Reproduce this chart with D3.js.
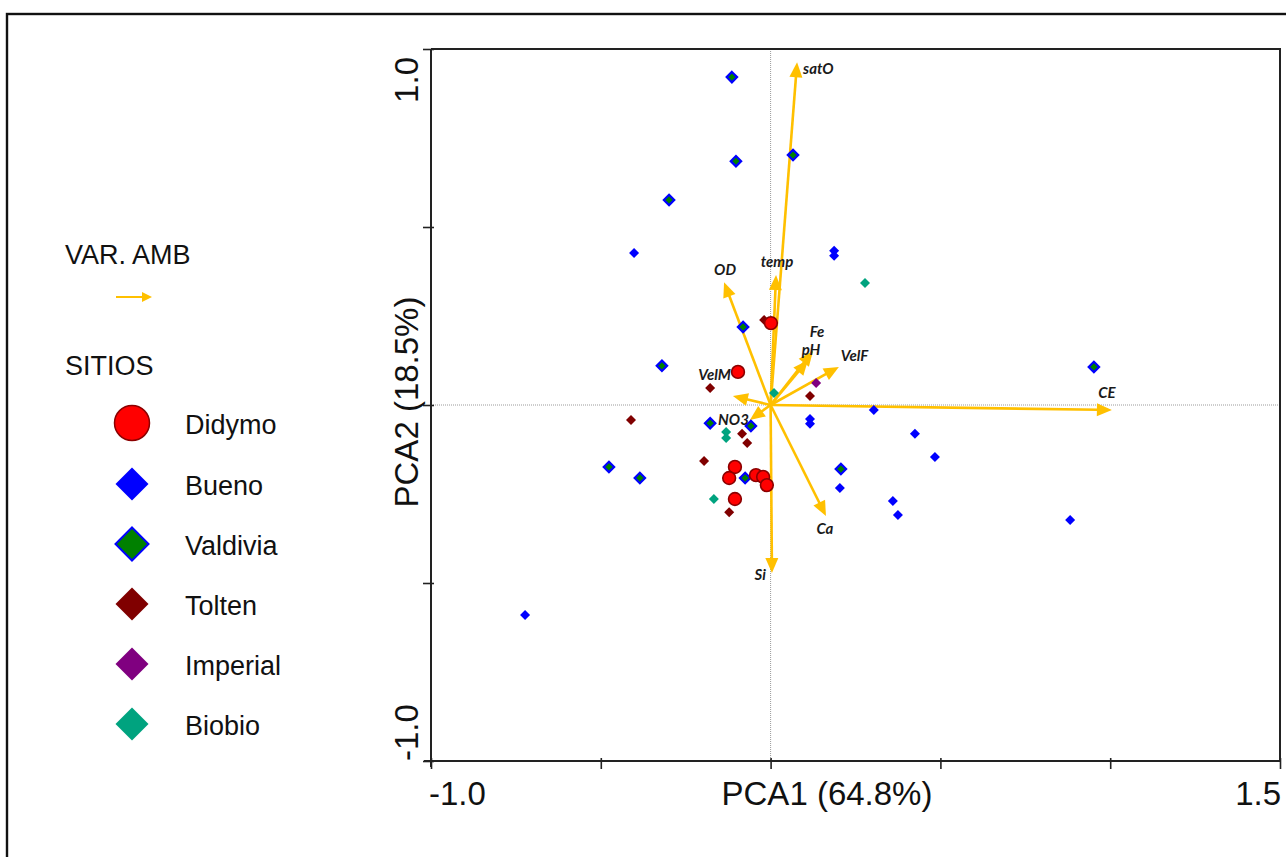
<!DOCTYPE html>
<html>
<head>
<meta charset="utf-8">
<script src="https://cdn.jsdelivr.net/npm/d3@7"></script>
<style>
  html, body { margin: 0; padding: 0; background: #fff; }
  svg { display: block; }
</style>
</head>
<body>
<svg id="chart" width="1286" height="857"></svg>
<script>
// PCA biplot: site scores (PC1, PC2) and environmental variable loadings.

const siteNames = ["Didymo", "Bueno", "Valdivia", "Tolten", "Imperial", "Biobio"];

const didymo = [
  [0.001, 0.230], [-0.096, 0.093], [-0.105, -0.174], [-0.122, -0.205],
  [-0.043, -0.197], [-0.022, -0.202], [-0.011, -0.225], [-0.105, -0.264]
];
const bueno = [
  [-0.402, 0.427], [0.187, 0.433], [0.187, 0.419], [0.304, -0.014],
  [0.116, -0.039], [0.116, -0.053], [0.425, -0.081], [0.484, -0.146],
  [0.204, -0.233], [0.360, -0.270], [0.375, -0.309], [0.882, -0.323],
  [-0.723, -0.590]
];
const valdivia = [
  [-0.114, 0.921], [-0.102, 0.685], [0.066, 0.702], [-0.299, 0.576],
  [-0.081, 0.219], [-0.320, 0.110], [0.952, 0.107], [-0.178, -0.051],
  [-0.058, -0.059], [-0.476, -0.174], [-0.385, -0.205], [-0.075, -0.205],
  [0.207, -0.180]
];
const tolten = [
  [-0.019, 0.239], [-0.178, 0.048], [0.116, 0.025], [-0.411, -0.042],
  [-0.084, -0.081], [-0.069, -0.107], [-0.196, -0.157], [-0.122, -0.301],
  [-0.011, -0.219]
];
const imperial = [[0.134, 0.062]];
const biobio = [
  [0.278, 0.343], [0.010, 0.034], [-0.131, -0.076], [-0.131, -0.093],
  [-0.167, -0.264]
];

const varNames = ["satO", "temp", "OD", "Fe", "pH", "VelF", "VelM", "NO3", "CE", "Ca", "Si"];
const varPC1 = [0.078, 0.016, -0.137, 0.125, 0.110, 0.201, -0.111, -0.061, 1.005, 0.163, 0.004];
const varPC2 = [0.963, 0.365, 0.345, 0.152, 0.126, 0.107, 0.025, -0.042, -0.014, -0.312, -0.472];

const xTickValues = [-1.0, -0.5, 0, 0.5, 1.0, 1.5];
const yTickValues = [-1.0, -0.5, 0, 0.5, 1.0];
const xEndLabels = ["-1.0", "1.5"];
const yEndLabels = ["-1.0", "1.0"];

// ---- layout ----
const svg = d3.select("#chart");
const W = 1286, H = 857;
const plot = { left: 431, right: 1280, top: 49, bottom: 761 };

const x = d3.scaleLinear().domain([-1, 1.5]).range([plot.left, plot.right]);
const y = d3.scaleLinear().domain([-1, 1]).range([plot.bottom, plot.top]);

const ARROW = "#FFC000";
const styles = {
  Didymo:   { shape: "circle",  fill: "#FF0000", stroke: "#8B0000", sw: 1.6, r: 6.4 },
  Bueno:    { shape: "diamond", fill: "#0000FF", stroke: "none",    sw: 0,   r: 5 },
  Valdivia: { shape: "diamond", fill: "#008000", stroke: "#0000FF", sw: 2.2, r: 5.2 },
  Tolten:   { shape: "diamond", fill: "#800000", stroke: "none",    sw: 0,   r: 5 },
  Imperial: { shape: "diamond", fill: "#800080", stroke: "none",    sw: 0,   r: 5 },
  Biobio:   { shape: "diamond", fill: "#00A37F", stroke: "none",    sw: 0,   r: 5 }
};
const siteData = { Didymo: didymo, Bueno: bueno, Valdivia: valdivia, Tolten: tolten, Imperial: imperial, Biobio: biobio };

// outer frame
svg.append("rect")
  .attr("x", 7).attr("y", 14).attr("width", W + 20).attr("height", H + 20)
  .attr("fill", "none").attr("stroke", "#111").attr("stroke-width", 2.4);

// zero reference lines
svg.append("line")
  .attr("x1", plot.left).attr("x2", plot.right).attr("y1", y(0)).attr("y2", y(0))
  .attr("stroke", "#9a9a9a").attr("stroke-width", 1).attr("stroke-dasharray", "1,1");
svg.append("line")
  .attr("x1", x(0)).attr("x2", x(0)).attr("y1", plot.top).attr("y2", plot.bottom)
  .attr("stroke", "#9a9a9a").attr("stroke-width", 1).attr("stroke-dasharray", "1,1");

// plot box: top and right edges
svg.append("path")
  .attr("d", `M${plot.left},${plot.top}H${plot.right}V${plot.bottom}`)
  .attr("fill", "none").attr("stroke", "#222").attr("stroke-width", 2);

// axes
const xAxis = d3.axisBottom(x).tickValues(xTickValues).tickFormat("").tickSizeInner(8).tickSizeOuter(0);
const gx = svg.append("g").attr("transform", `translate(0,${plot.bottom})`).call(xAxis);
gx.select(".domain").attr("stroke", "#222").attr("stroke-width", 2)
  .attr("d", `M${plot.left - 7},0H${plot.right}`);
gx.selectAll(".tick line").attr("stroke", "#222").attr("stroke-width", 1.6).attr("y1", -3);

const yAxis = d3.axisLeft(y).tickValues(yTickValues).tickFormat("").tickSizeInner(8).tickSizeOuter(0);
const gy = svg.append("g").attr("transform", `translate(${plot.left},0)`).call(yAxis);
gy.select(".domain").attr("stroke", "#222").attr("stroke-width", 2)
  .attr("d", `M0,${plot.top}V${plot.bottom + 6}`);
gy.selectAll(".tick line").attr("stroke", "#222").attr("stroke-width", 1.6).attr("x1", 3);

const axisFont = "'Liberation Sans', Arial, sans-serif";
// x end labels
svg.append("text").attr("x", x(-1) - 2).attr("y", 805)
  .attr("font-family", axisFont).attr("font-size", 33).attr("fill", "#111")
  .attr("text-anchor", "start").text(xEndLabels[0]);
svg.append("text").attr("x", x(1.5) + 1).attr("y", 805)
  .attr("font-family", axisFont).attr("font-size", 33).attr("fill", "#111")
  .attr("text-anchor", "end").text(xEndLabels[1]);
svg.append("text").attr("x", 827).attr("y", 805)
  .attr("font-family", axisFont).attr("font-size", 33).attr("fill", "#111")
  .attr("text-anchor", "middle").text("PCA1 (64.8%)");

// y end labels (rotated)
svg.append("text").attr("transform", `translate(418,${y(-1)}) rotate(-90)`)
  .attr("font-family", axisFont).attr("font-size", 33).attr("fill", "#111")
  .attr("text-anchor", "start").text(yEndLabels[0]);
svg.append("text").attr("transform", `translate(418,${y(1) + 8}) rotate(-90)`)
  .attr("font-family", axisFont).attr("font-size", 33).attr("fill", "#111")
  .attr("text-anchor", "end").text(yEndLabels[1]);
svg.append("text").attr("transform", `translate(418,${y(0) - 3}) rotate(-90)`)
  .attr("font-family", axisFont).attr("font-size", 33).attr("fill", "#111")
  .attr("text-anchor", "middle").text("PCA2 (18.5%)");

// ---- variable arrows ----
function arrowPaths(x0, y0, x1, y1, headLen, headHalf) {
  const dx = x1 - x0, dy = y1 - y0;
  const len = Math.hypot(dx, dy);
  const ux = dx / len, uy = dy / len;
  const bx = x1 - ux * headLen, by = y1 - uy * headLen;
  const px = -uy, py = ux;
  return {
    line: `M${x0},${y0}L${bx + ux},${by + uy}`,
    head: `M${x1},${y1}L${bx + px * headHalf},${by + py * headHalf}L${bx - px * headHalf},${by - py * headHalf}Z`
  };
}

// label placement around each arrow tip (pixels)
const labelPlacement = {
  satO: [6, 12, "start"], temp: [1, -8, "middle"], OD: [1, -7, "middle"],
  Fe: [4, -14, "middle"], pH: [3, -5, "middle"], VelF: [2, -6, "start"],
  VelM: [-2, -16, "end"], NO3: [-1, 5, "end"], CE: [-5, -12, "middle"],
  Ca: [-1, 18, "middle"], Si: [-6, 7, "end"]
};

const gArrows = svg.append("g");
varNames.forEach((name, i) => {
  const tx = x(varPC1[i]), ty = y(varPC2[i]);
  const p = arrowPaths(x(0), y(0), tx, ty, 15, 6.5);
  gArrows.append("path").attr("d", p.line).attr("stroke", ARROW).attr("stroke-width", 2.6).attr("fill", "none");
  gArrows.append("path").attr("d", p.head).attr("fill", ARROW);
});

// ---- site points ----
const diamond = (cx, cy, r) => `M${cx},${cy - r}L${cx + r},${cy}L${cx},${cy + r}L${cx - r},${cy}Z`;
const drawOrder = ["Bueno", "Valdivia", "Biobio", "Tolten", "Imperial", "Didymo"];
const gPts = svg.append("g");
drawOrder.forEach(name => {
  const st = styles[name];
  siteData[name].forEach(d => {
    const cx = x(d[0]), cy = y(d[1]);
    if (st.shape === "circle") {
      gPts.append("circle").attr("cx", cx).attr("cy", cy).attr("r", st.r)
        .attr("fill", st.fill).attr("stroke", st.stroke).attr("stroke-width", st.sw);
    } else {
      gPts.append("path").attr("d", diamond(cx, cy, st.r))
        .attr("fill", st.fill).attr("stroke", st.stroke).attr("stroke-width", st.sw);
    }
  });
});

// variable labels
varNames.forEach((name, i) => {
  const [dx, dy, anchor] = labelPlacement[name];
  svg.append("text")
    .attr("x", x(varPC1[i]) + dx).attr("y", y(varPC2[i]) + dy)
    .attr("font-family", "Lato, 'Open Sans', sans-serif")
    .attr("font-weight", "bold").attr("font-style", "italic")
    .attr("font-size", 15).attr("fill", "#1a1a1a")
    .attr("text-anchor", anchor).text(name);
});

// ---- legend ----
const legFont = "'Liberation Sans', Arial, sans-serif";
svg.append("text").attr("x", 65).attr("y", 264).attr("font-family", legFont)
  .attr("font-size", 27).attr("fill", "#111").text("VAR. AMB");
const la = arrowPaths(116, 297, 152, 297, 10, 5);
svg.append("path").attr("d", la.line).attr("stroke", ARROW).attr("stroke-width", 2).attr("fill", "none");
svg.append("path").attr("d", la.head).attr("fill", ARROW);

svg.append("text").attr("x", 65).attr("y", 375).attr("font-family", legFont)
  .attr("font-size", 27).attr("fill", "#111").text("SITIOS");

const legendYs = [423, 484, 544, 604, 664, 724];
siteNames.forEach((name, i) => {
  const st = styles[name];
  const cy = legendYs[i];
  if (st.shape === "circle") {
    svg.append("circle").attr("cx", 132).attr("cy", cy).attr("r", 17.5)
      .attr("fill", st.fill).attr("stroke", st.stroke).attr("stroke-width", 1.5);
  } else {
    svg.append("path").attr("d", diamond(132, cy, 16.5))
      .attr("fill", st.fill).attr("stroke", st.stroke).attr("stroke-width", st.sw ? 2 : 0);
  }
  svg.append("text").attr("x", 185).attr("y", cy + 11).attr("font-family", legFont)
    .attr("font-size", 27).attr("fill", "#111").text(name);
});
</script>
</body>
</html>
